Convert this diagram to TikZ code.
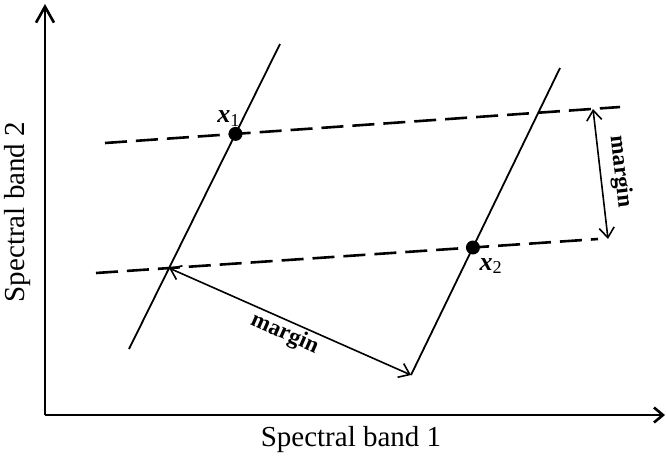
\documentclass[tikz,border=0pt]{standalone}
\usepackage{fontspec}
\setmainfont{Liberation Serif}
\usetikzlibrary{arrows.meta,positioning}

\begin{document}
\begin{tikzpicture}[x=1pt,y=-1pt,>={Straight Barb[length=16pt,width=18pt]},
  axis/.style={line width=2.6pt},
  hyper/.style={line width=1.8pt},
  bound/.style={line width=2.6pt,dash pattern=on 22pt off 9pt},
  gap/.style={line width=1.6pt,<->,>={Straight Barb[length=10pt,width=15pt]}},
  dot/.style={circle,fill,inner sep=0pt,minimum size=14pt},
  gaplabel/.style={font=\fontsize{23}{25}\selectfont\bfseries},
  vlabel/.style={font=\fontsize{26}{28}\selectfont}]
  \useasboundingbox (0,0) rectangle (666,459);
  % axes
  \coordinate (o) at (45,415);
  \coordinate (ytip) at (45,4);
  \coordinate (xtip) at (665,415);
  \draw[axis,->] (o) -- (ytip);
  \draw[axis,->,>={Straight Barb[length=9pt,width=15pt]}] (o) -- (xtip);
  \node[font=\fontsize{29}{31}\selectfont] (xlab) at (351,440) {Spectral band 1};
  \node[font=\fontsize{29}{31}\selectfont,rotate=90] (ylab) at (18,212) {Spectral band 2};
  % end points of the lines
  \coordinate (l1s) at (129,349);
  \coordinate (l1e) at (280,44);
  \coordinate (l2s) at (411,375);
  \coordinate (l2e) at (560,68);
  \coordinate (d1s) at (105,143);
  \coordinate (d1e) at (620,107);
  \coordinate (d2s) at (96,273);
  \coordinate (d2e) at (598,239);
  % dashed bounds, solid lines
  \draw[bound] (d1s) -- (d1e);
  \draw[bound] (d2s) -- (d2e);
  \draw[hyper] (l1s) -- (l1e);
  \draw[hyper] (l2s) -- (l2e);
  % support points
  \node[dot] (x1) at (intersection of l1s--l1e and d1s--d1e) {};
  \node[dot] (x2) at (intersection of l2s--l2e and d2s--d2e) {};
  \node[vlabel,above left=-1pt and -13pt of x1] (x1lab) {\textbf{\textit{x}}\textsubscript{1}};
  \node[vlabel,below right=2pt and -2pt of x2] (x2lab) {\textbf{\textit{x}}\textsubscript{2}};
  % margins
  \coordinate (m1) at (intersection of l1s--l1e and d2s--d2e);
  \draw[gap] (m1) -- (l2s) node[gaplabel,midway,sloped,below=-1pt] (mlab1) {margin};
  \coordinate (m2a) at (593,109);
  \coordinate (m2b) at (608,239);
  \draw[gap] (m2a) -- (m2b) node[gaplabel,midway,sloped,above=5pt] (mlab2) {margin};
\end{tikzpicture}
\end{document}
